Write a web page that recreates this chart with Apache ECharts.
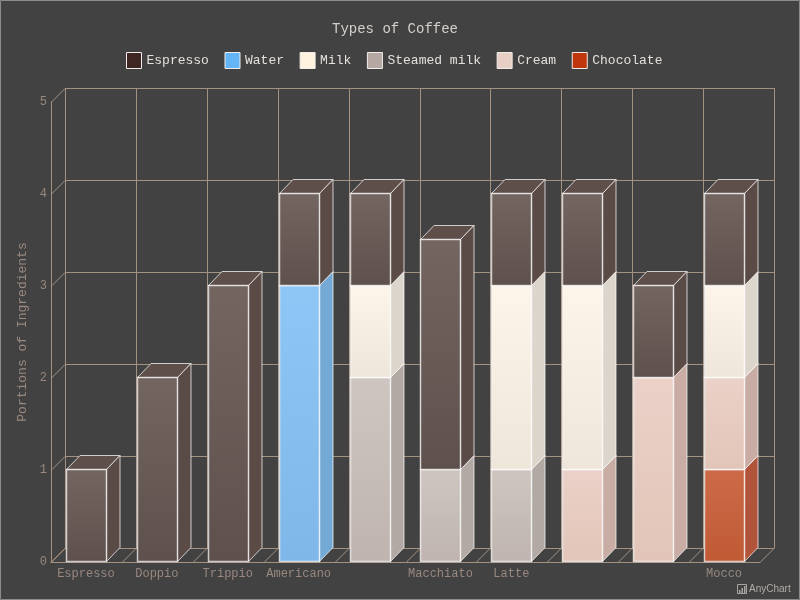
<!DOCTYPE html>
<html>
<head>
<meta charset="utf-8">
<title>Types of Coffee</title>
<script src="https://cdn.jsdelivr.net/npm/echarts@6/dist/echarts.min.js"></script>
<style>
  html, body { margin: 0; padding: 0; background: #424242; }
  #chart { width: 800px; height: 600px; }
</style>
</head>
<body>
<div id="chart"></div>
<script>
const categories = ['Espresso', 'Doppio', 'Trippio', 'Americano', '', 'Macchiato', 'Latte', '', '', 'Mocco'];
const yTicks = [0, 1, 2, 3, 4, 5];

const espresso = [1, 2, 3, 1, 1, 2.5, 1, 1, 1, 1];
const water = [0, 0, 0, 3, 0, 0, 0, 0, 0, 0];
const milk = [0, 0, 0, 0, 1, 0, 2, 2, 0, 1];
const steamedMilk = [0, 0, 0, 0, 2, 1, 1, 0, 0, 0];
const cream = [0, 0, 0, 0, 0, 0, 0, 1, 2, 1];
const chocolate = [0, 0, 0, 0, 0, 0, 0, 0, 0, 1];

// legend order is not the stacking order, espresso always sits on top
const legendNames = ['Espresso', 'Water', 'Milk', 'Steamed milk', 'Cream', 'Chocolate'];
const stackOrder = [
  { name: 'Chocolate', values: chocolate },
  { name: 'Cream', values: cream },
  { name: 'Steamed milk', values: steamedMilk },
  { name: 'Water', values: water },
  { name: 'Milk', values: milk },
  { name: 'Espresso', values: espresso }
];

const colors = {
  'Espresso': { swatch: '#3e2723', top: '#736560', bottom: '#5e504c', side: '#5b4b47', cap: '#5f4f4b' },
  'Water': { swatch: '#64b5f6', top: '#8ec6f6', bottom: '#7fb8e8', side: '#74a9d6', cap: '#8cc0ec' },
  'Milk': { swatch: '#fff3e0', top: '#fdf5e9', bottom: '#efe6da', side: '#dcd5cb', cap: '#f5ecdf' },
  'Steamed milk': { swatch: '#b5a8a3', top: '#cec5c1', bottom: '#bfb4af', side: '#b3a9a4', cap: '#c8bfbb' },
  'Cream': { swatch: '#e8cfc6', top: '#ebd1c8', bottom: '#e2c5b8', side: '#c9aca4', cap: '#e5cbc1' },
  'Chocolate': { swatch: '#bf360c', top: '#cc6a48', bottom: '#c05a35', side: '#b0553a', cap: '#c8684a' }
};

const gridColor = '#a5917f';
const labelColor = '#98887f';
const barStroke = 'rgba(255,255,255,0.72)';
const monoFont = '"Liberation Mono", monospace';
const depth = 14;
const barDepthX = 13.5;
const barDepthY = 14;

const chart = echarts.init(document.getElementById('chart'));

// back wall, left wall and floor
const renderWall = (params, api) => {
  const cs = params.coordSys;
  const children = [];
  const line = (x1, y1, x2, y2) => {
    children.push({
      type: 'line',
      shape: { x1, y1, x2, y2 },
      style: { stroke: gridColor, lineWidth: 1 }
    });
  };
  yTicks.forEach(t => {
    const y = Math.round(api.coord([0, t])[1]) + 0.5;
    line(cs.x, y, cs.x + depth, y - depth);
    line(cs.x + depth, y - depth, cs.x + cs.width + depth, y - depth);
  });
  const band = cs.width / categories.length;
  for (let i = 0; i <= categories.length; i++) {
    const x = Math.round(cs.x + band * i) + 0.5;
    const bottom = cs.y + cs.height;
    line(x, bottom, x + depth, bottom - depth);
    line(x + depth, bottom - depth, x + depth, cs.y - depth);
  }
  return { type: 'group', children };
};

const renderBar = name => (params, api) => {
  const c = colors[name];
  const w = api.size([1, 0])[0] * 0.564;
  const center = api.coord([api.value(0), 0])[0];
  const x = Math.floor(center - w / 2) + 0.5;
  const x2 = x + Math.round(w);
  const y1 = Math.round(api.coord([0, api.value(2)])[1]) - 0.5;
  const y0 = Math.round(api.coord([0, api.value(1)])[1]) - 0.5;
  const dx = barDepthX;
  const dy = barDepthY;
  return {
    type: 'group',
    children: [
      {
        type: 'polygon',
        shape: { points: [[x, y1], [x2, y1], [x2 + dx, y1 - dy], [x + dx, y1 - dy]] },
        style: { fill: c.cap, stroke: barStroke, lineWidth: 1 }
      },
      {
        type: 'polygon',
        shape: { points: [[x2, y1], [x2 + dx, y1 - dy], [x2 + dx, y0 - dy], [x2, y0]] },
        style: { fill: c.side, stroke: barStroke, lineWidth: 1 }
      },
      {
        type: 'rect',
        shape: { x, y: y1, width: x2 - x, height: y0 - y1 },
        style: {
          fill: new echarts.graphic.LinearGradient(0, 0, 0, 1, [
            { offset: 0, color: c.top },
            { offset: 1, color: c.bottom }
          ]),
          stroke: barStroke,
          lineWidth: 1.5
        }
      }
    ]
  };
};

// running total per category, so each segment knows its base
const totals = categories.map(() => 0);
const barSeries = stackOrder.map((s, idx) => {
  const data = [];
  s.values.forEach((v, i) => {
    if (v > 0) {
      data.push([i, totals[i], totals[i] + v]);
      totals[i] += v;
    }
  });
  return {
    name: s.name,
    type: 'custom',
    renderItem: renderBar(s.name),
    data,
    z: 3 + idx,
    clip: false,
    silent: true,
    encode: { x: 0, y: [1, 2] },
    itemStyle: { color: colors[s.name].swatch }
  };
});

const option = {
  backgroundColor: '#424242',
  animation: false,
  title: {
    text: 'Types of Coffee',
    left: 332,
    top: 22,
    padding: 0,
    textStyle: { color: '#d6d0cc', fontFamily: monoFont, fontSize: 14, fontWeight: 'normal' }
  },
  legend: {
    left: 126,
    top: 52,
    padding: 0,
    itemWidth: 15,
    itemHeight: 16,
    itemGap: 15.6,
    selectedMode: false,
    textStyle: { color: '#e6e0dc', fontFamily: monoFont, fontSize: 13 },
    data: legendNames.map(name => ({
      name,
      icon: 'rect',
      itemStyle: { color: colors[name].swatch, borderColor: '#f2ece8', borderWidth: 1 }
    }))
  },
  grid: { left: 51, right: 40, top: 102, bottom: 38 },
  xAxis: {
    type: 'category',
    data: categories,
    axisTick: { show: false },
    axisLine: { lineStyle: { color: gridColor, width: 1 } },
    axisLabel: { color: labelColor, fontFamily: monoFont, fontSize: 12, margin: 6, interval: 0, padding: [0, 1, 0, 0] },
    splitLine: { show: false }
  },
  yAxis: {
    type: 'value',
    min: 0,
    max: 5,
    interval: 1,
    name: 'Portions of Ingredients',
    nameLocation: 'middle',
    nameGap: 20,
    nameTextStyle: { color: labelColor, fontFamily: monoFont, fontSize: 13 },
    axisTick: { show: false },
    axisLine: { show: true, lineStyle: { color: gridColor, width: 1 } },
    axisLabel: { color: labelColor, fontFamily: monoFont, fontSize: 12, margin: 4 },
    splitLine: { show: false }
  },
  series: [
    {
      name: 'wall',
      type: 'custom',
      renderItem: renderWall,
      data: [[0, 0]],
      z: 1,
      clip: false,
      silent: true
    }
  ].concat(barSeries),
  graphic: [
    {
      type: 'rect',
      silent: true,
      shape: { x: 0.5, y: 0.5, width: 799, height: 599 },
      style: { fill: 'none', stroke: '#8c8c8c', lineWidth: 1 }
    },
    {
      type: 'text',
      silent: true,
      left: 749,
      top: 584,
      style: { text: 'AnyChart', fill: '#b0aca8', font: '10px "Liberation Sans", sans-serif' }
    },
    {
      type: 'group',
      silent: true,
      left: 735,
      top: 582,
      children: [
        { type: 'rect', shape: { x: 0.5, y: 0.5, width: 9, height: 9 }, style: { fill: 'none', stroke: '#a8a4a0', lineWidth: 1 } },
        { type: 'rect', shape: { x: 2, y: 6, width: 1.5, height: 3 }, style: { fill: '#a8a4a0' } },
        { type: 'rect', shape: { x: 4.5, y: 4, width: 1.5, height: 5 }, style: { fill: '#a8a4a0' } },
        { type: 'rect', shape: { x: 7, y: 2, width: 1.5, height: 7 }, style: { fill: '#a8a4a0' } }
      ]
    }
  ]
};

chart.setOption(option);
window.addEventListener('resize', () => chart.resize());
</script>
</body>
</html>
